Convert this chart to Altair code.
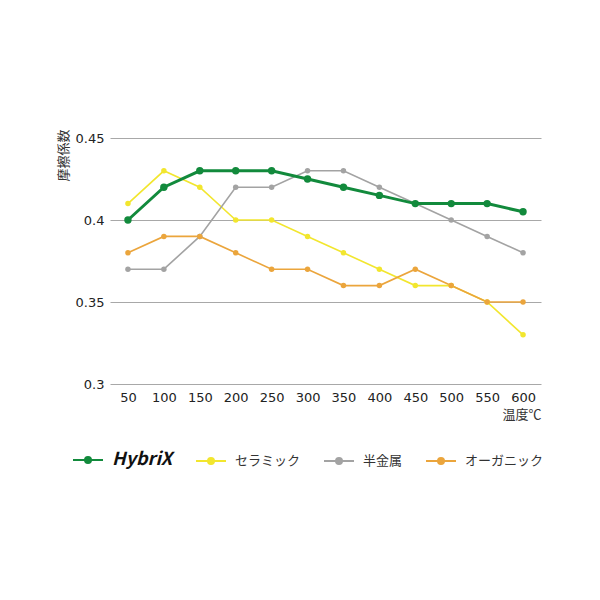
import altair as alt
import pandas as pd

temps = [50, 100, 150, 200, 250, 300, 350, 400, 450, 500, 550, 600]
hybrix = [0.40, 0.42, 0.43, 0.43, 0.43, 0.425, 0.42, 0.415, 0.41, 0.41, 0.41, 0.405]
ceramic = [0.41, 0.43, 0.42, 0.40, 0.40, 0.39, 0.38, 0.37, 0.36, 0.36, 0.35, 0.33]
semimetal = [0.37, 0.37, 0.39, 0.42, 0.42, 0.43, 0.43, 0.42, 0.41, 0.40, 0.39, 0.38]
organic = [0.38, 0.39, 0.39, 0.38, 0.37, 0.37, 0.36, 0.36, 0.37, 0.36, 0.35, 0.35]

series_names = ["HybriX", "セラミック", "半金属", "オーガニック"]
series_colors = ["#128a3c", "#f2e62e", "#a3a3a3", "#eba53c"]
y_ticks = [0.3, 0.35, 0.4, 0.45]

rows = []
for name, vals in zip(series_names, [hybrix, ceramic, semimetal, organic]):
    for t, v in zip(temps, vals):
        rows.append({"temp": t, "value": v, "series": name})
df = pd.DataFrame(rows)

FONT = "DejaVu Sans, 'Noto Sans CJK JP'"
JP = "'Noto Sans CJK JP', DejaVu Sans"

legend = alt.Legend(
    title=None,
    orient="none",
    legendX=-38,
    legendY=306,
    direction="horizontal",
    padding=0,
    columnPadding=19,
    labelOffset=8,
    symbolType="M-1,0L1,0M-0.2,0A0.2,0.2,0,1,0,0.2,0A0.2,0.2,0,1,0,-0.2,0Z",
    symbolSize=900,
    symbolStrokeWidth=2,
    symbolOpacity=1,
    labelFont=JP,
    labelFontSize=alt.ExprRef("datum.label == 'HybriX' ? 18 : 13"),
    labelFontWeight=alt.ExprRef("datum.label == 'HybriX' ? 'bold' : 'normal'"),
    labelFontStyle=alt.ExprRef("datum.label == 'HybriX' ? 'italic' : 'normal'"),
    labelColor=alt.ExprRef("datum.label == 'HybriX' ? '#111111' : '#333333'"),
    labelLimit=300,
)

x_enc = alt.X(
    "temp:O",
    sort=temps,
    scale=alt.Scale(type="point", padding=0.5),
    axis=alt.Axis(
        title="温度℃",
        titleFont=JP,
        titleFontSize=13,
        titleFontWeight="normal",
        titleColor="#333333",
        titleAnchor="end",
        titlePadding=4,
        labelAngle=0,
        labelFont=FONT,
        labelFontSize=13,
        labelColor="#222222",
        labelPadding=7,
        ticks=False,
        domain=False,
        grid=False,
    ),
)
y_enc = alt.Y(
    "value:Q",
    scale=alt.Scale(domain=[0.3, 0.45], nice=False, zero=False),
    axis=alt.Axis(
        title="摩擦係数",
        titleFont=JP,
        titleFontSize=13,
        titleFontWeight="normal",
        titleColor="#333333",
        titleAnchor="end",
        titleAlign="right",
        titleBaseline="bottom",
        titleX=-40,
        titleY=-9,
        values=y_ticks,
        labelExpr="datum.value == 0.3 ? '0.3' : datum.value == 0.4 ? '0.4' : format(datum.value, '.2f')",
        labelFont=FONT,
        labelFontSize=13,
        labelColor="#222222",
        labelPadding=6,
        ticks=False,
        domain=False,
        grid=True,
        gridColor="#a8a8a8",
        gridWidth=1,
    ),
)

stroke_scale = alt.Scale(domain=series_names, range=series_colors)

others = df[df["series"] != "HybriX"]
hyb = df[df["series"] == "HybriX"]

line_others = alt.Chart(others).mark_line(strokeWidth=1.6).encode(
    x=x_enc, y=y_enc,
    stroke=alt.Stroke("series:N", scale=stroke_scale, sort=series_names, legend=legend),
)
pts_others = alt.Chart(others).mark_circle(size=30, opacity=1).encode(
    x=x_enc, y=y_enc,
    fill=alt.Fill("series:N", scale=stroke_scale, sort=series_names, legend=legend),
)
line_h = alt.Chart(hyb).mark_line(strokeWidth=3).encode(
    x=x_enc, y=y_enc,
    stroke=alt.Stroke("series:N", scale=stroke_scale, sort=series_names, legend=legend),
)
pts_h = alt.Chart(hyb).mark_circle(size=55, opacity=1).encode(
    x=x_enc, y=y_enc,
    fill=alt.Fill("series:N", scale=stroke_scale, sort=series_names, legend=legend),
)

chart = alt.layer(line_others, pts_others, line_h, pts_h).properties(
    width=431,
    height=246,
    autosize=alt.AutoSizeParams(type="none"),
    padding={"left": 102, "top": 130, "right": 20, "bottom": 130},
).configure(background="white").configure_view(stroke=None)

chart.save("out.html", embed_options={"renderer": "svg", "actions": False})
